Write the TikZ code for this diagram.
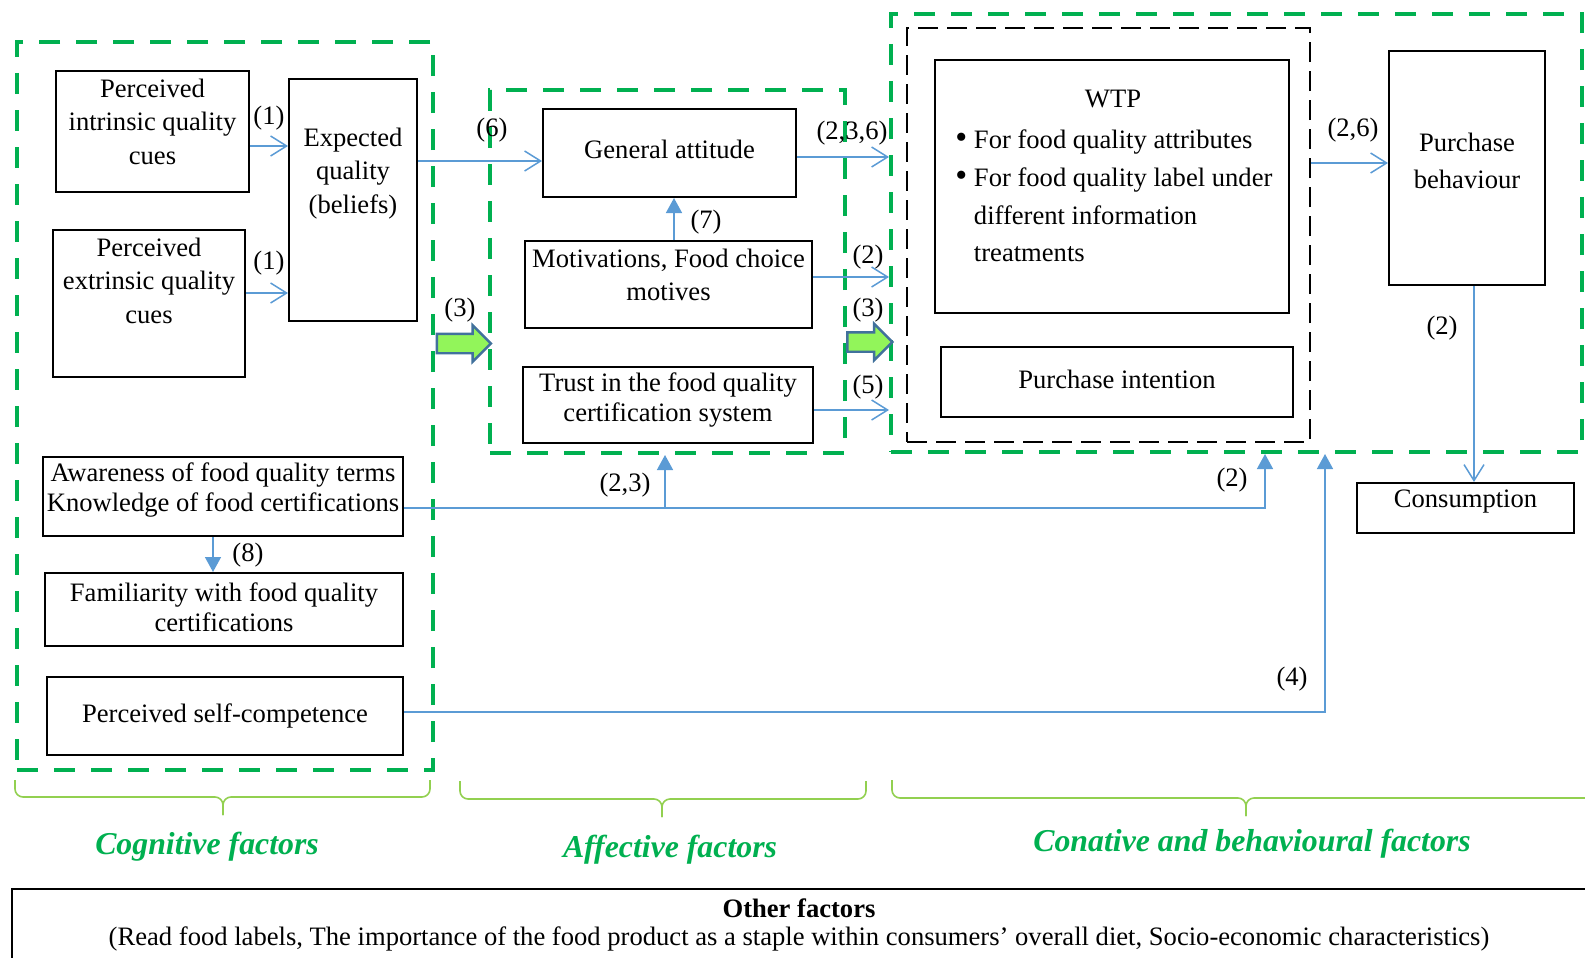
\documentclass[tikz,border=0pt]{standalone}
\usepackage{fontspec}
\setmainfont{Liberation Serif}
\usetikzlibrary{arrows.meta,shapes.arrows}
\definecolor{groupgreen}{RGB}{0,176,80}
\definecolor{flowblue}{RGB}{91,155,213}
\definecolor{limegreen}{RGB}{146,245,90}
\definecolor{edgeblue}{RGB}{65,113,156}
\definecolor{bracegreen}{RGB}{146,208,80}

\tikzset{
  box/.style={draw, line width=1pt, inner sep=0pt},
  txt/.style={align=center, inner sep=0pt},
  num/.style={inner sep=0pt},
  group/.style={draw=groupgreen, line width=2pt, dash pattern=on 10.5pt off 8pt, inner sep=0pt},
  wtpgroup/.style={draw=black, line width=1pt, dash pattern=on 10pt off 4.5pt, inner sep=0pt},
  flow/.style={draw=flowblue, line width=0.75pt, -{Straight Barb[length=8pt,width=10pt]}},
  flowtri/.style={draw=flowblue, line width=0.75pt, -{Triangle[length=7.5pt,width=8pt]}},
  fatarrow/.style={single arrow, draw=edgeblue, fill=limegreen, line width=1.2pt,
    inner xsep=0pt, inner ysep=4.25pt, single arrow head extend=4.25pt},
  factor/.style={text=groupgreen, font=\fontsize{15.9}{19}\selectfont\bfseries\itshape},
  brace/.style={draw=bracegreen, line width=0.8pt, rounded corners=4pt}
}
\newcommand{\wtpdot}{{\fontsize{17}{17}\selectfont\textbullet}\ }

\begin{document}
\begin{tikzpicture}[x=0.5pt, y=-0.5pt, font=\fontsize{13.3}{16.75}\selectfont]
    \useasboundingbox (0,0) rectangle (1585,958);
    \clip (0,0) rectangle (1585,958);

    % Groups
    \node[group, minimum width=208pt, minimum height=364pt] (cogn) at (225,406) {};
    \node[group, minimum width=177.5pt, minimum height=181.5pt] (affe) at (667.5,271.5) {};
    \node[group, minimum width=345.5pt, minimum height=219pt] (conv) at (1236.5,233) {};
    \node[wtpgroup, minimum width=201.5pt, minimum height=207pt] (wtpgrp) at (1108.5,235) {};

    % Cognitive factors
    \node[box, minimum width=96.5pt, minimum height=60.5pt] (intr) at (152.5,131.5) {};
    \node[txt] (intr-t) at (152.5,121.5) {Perceived\\intrinsic quality\\cues};
    \node[box, minimum width=96pt, minimum height=73.5pt] (extr) at (149,303.5) {};
    \node[txt] (extr-t) at (149,280.5) {Perceived\\extrinsic quality\\cues};
    \node[box, minimum width=64pt, minimum height=121pt] (exp) at (353,200) {};
    \node[txt] (exp-t) at (353,173.5) {Expected\\quality\\(beliefs)};
    \node[box, minimum width=180pt, minimum height=39.5pt] (aware) at (223,496.5) {};
    \node[txt, font=\fontsize{13.3}{15}\selectfont] (aware-t) at (223,490)
        {Awareness of food quality terms\\Knowledge of food certifications};
    \node[box, minimum width=179pt, minimum height=36.5pt] (fam) at (224,609.5) {};
    \node[txt, font=\fontsize{13.3}{15}\selectfont] (fam-t) at (224,607)
        {Familiarity with food quality\\certifications};
    \node[box, minimum width=178pt, minimum height=39pt] (self) at (225,716)
        {Perceived self-competence};

    % Affective factors
    \node[box, minimum width=126.5pt, minimum height=44pt] (ga) at (669.5,153) {};
    \node[txt] (ga-t) at (669.5,149) {General attitude};
    \node[box, minimum width=143.5pt, minimum height=43.5pt] (mot) at (668.5,284.5) {};
    \node[txt] (mot-t) at (668.5,275) {Motivations, Food choice\\motives};
    \node[box, minimum width=145pt, minimum height=38pt] (trust) at (668,405) {};
    \node[txt, font=\fontsize{13.3}{15.25}\selectfont] (trust-t) at (668,400)
        {Trust in the food quality\\certification system};

    % Conative and behavioural factors
    \node[box, minimum width=177pt, minimum height=126.5pt] (wtp) at (1112,186.5) {};
    \node[txt] (wtp-title) at (1113,99) {WTP};
    \node[txt, align=left, anchor=west, font=\fontsize{13.3}{18.85}\selectfont] (wtp-list) at (955,196)
        {\wtpdot For food quality attributes\\
         \wtpdot For food quality label under\\
         \hphantom{\wtpdot}different information\\
         \hphantom{\wtpdot}treatments};
    \node[box, minimum width=176pt, minimum height=35pt] (pi) at (1117,382) {};
    \node[txt] (pi-t) at (1117,379) {Purchase intention};
    \node[box, minimum width=78pt, minimum height=117pt] (pb) at (1467,168) {};
    \node[txt, font=\fontsize{13.3}{18.5}\selectfont] (pb-t) at (1467,160.5) {Purchase\\behaviour};
    \node[box, minimum width=108.5pt, minimum height=25pt] (cons) at (1465.5,508) {};
    \node[txt] (cons-t) at (1465.5,502) {Consumption};

    % Big arrows
    \node[fatarrow, minimum height=27pt] (fat1) at (459,343.5) {};
    \node[fatarrow, minimum height=22.5pt] (fat2) at (865,342) {};

    % Connectors
    \draw[flow] (intr.east |- 0,146) -- (exp.west |- 0,146);
    \draw[flow] (extr.east |- 0,293) -- (exp.west |- 0,293);
    \draw[flow] (exp.east |- 0,161) -- (ga.west |- 0,161);
    \draw[flow] (ga.east |- 0,157) -- (conv.west |- 0,157);
    \draw[flowtri] (674,0 |- mot.north) -- (674,0 |- ga.south);
    \draw[flow] (mot.east |- 0,277) -- (conv.west |- 0,277);
    \draw[flow] (trust.east |- 0,410) -- (conv.west |- 0,410);
    \draw[flow] (wtpgrp.east |- 0,163) -- (pb.west |- 0,163);
    \draw[flow] (1474,0 |- pb.south) -- (1474,0 |- cons.north);
    \draw[flowtri] (aware.east |- 0,508) -| (1265,0 |- conv.south);
    \coordinate (split) at (665,508);
    \draw[flowtri] (split) -- (split |- affe.south);
    \draw[flowtri] (213,0 |- aware.south) -- (213,0 |- fam.north);
    \draw[flowtri] (self.east |- 0,712) -| (1325,0 |- conv.south);

    % Path labels
    \node[num] (l1a) at (269,118) {(1)};
    \node[num] (l1b) at (269,263) {(1)};
    \node[num] (l6) at (492,130) {(6)};
    \node[num] (l3a) at (460,310) {(3)};
    \node[num] (l236) at (852,133) {(2,3,6)};
    \node[num] (l7) at (706,222) {(7)};
    \node[num] (l2a) at (868,257) {(2)};
    \node[num] (l3b) at (868,310) {(3)};
    \node[num] (l5) at (868,387) {(5)};
    \node[num] (l26) at (1353,130) {(2,6)};
    \node[num] (l2b) at (1442,328) {(2)};
    \node[num] (l23) at (625,485) {(2,3)};
    \node[num] (l2c) at (1232,480) {(2)};
    \node[num] (l4) at (1292,679) {(4)};
    \node[num] (l8) at (248,555) {(8)};

    % Braces and factor names
    \draw[brace] (15,780) |- (223,797) -- (223,815);
    \draw[brace] (430,780) |- (223,797) -- (223,815);
    \draw[brace] (460,781) |- (662,799) -- (662,817);
    \draw[brace] (866,781) |- (662,799) -- (662,817);
    \draw[brace] (892,780) |- (1246,798) -- (1246,816);
    \draw[brace] (1600,780) |- (1246,798) -- (1246,816);
    \node[factor] (cogn-l) at (207,847) {Cognitive factors};
    \node[factor] (affe-l) at (670,850) {Affective factors};
    \node[factor] (conv-l) at (1252,844) {Conative and behavioural factors};

    % Other factors
    \node[box, minimum width=787pt, minimum height=36pt, align=center,
          font=\fontsize{13.3}{14}\selectfont] (other) at (799,925)
        {\textbf{Other factors}\\(Read food labels, The importance of the food product as a staple within consumers’ overall diet, Socio-economic characteristics)};
\end{tikzpicture}
\end{document}
